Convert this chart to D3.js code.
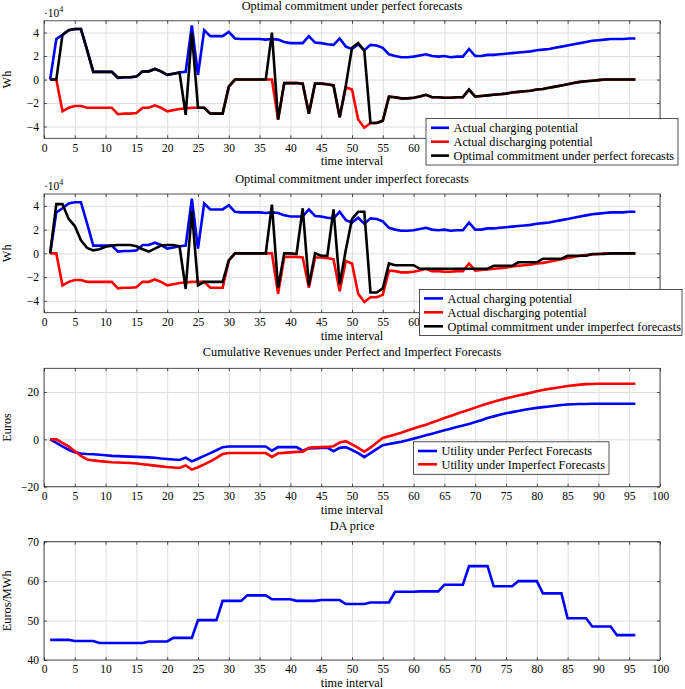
<!DOCTYPE html>
<html>
<head>
<meta charset="utf-8">
<script src="https://cdn.jsdelivr.net/npm/d3@7"></script>
<style>
  html, body { margin: 0; padding: 0; background: #fff; }
  svg { display: block; }
  text { font-family: "Liberation Serif", "Times New Roman", serif; fill: #000; }
</style>
</head>
<body>
<svg id="chart" width="685" height="689"></svg>
<script>
// ---------------- data ----------------
const intervals = d3.range(1, 97);

// Actual charging potential (x 10^4 Wh)
const chargingPotential = [
  0, 3.45, 3.8, 4.2, 4.3, 4.3, 2.5, 0.65, 0.65, 0.65,
  0.65, 0.15, 0.2, 0.2, 0.25, 0.7, 0.7, 0.9, 0.7, 0.4,
  0.5, 0.6, 0.65, 4.6, 0.4, 4.2, 3.7, 3.7, 3.7, 4.05,
  3.5, 3.45, 3.45, 3.45, 3.45, 3.4, 3.45, 3.4, 3.2, 3.1,
  3.1, 3.1, 3.7, 3.15, 3.1, 3.0, 2.95, 3.5, 2.8, 2.6,
  3.0, 2.5, 2.95, 2.9, 2.7, 2.15, 2.0, 1.9, 1.9, 1.95,
  2.05, 2.15, 2.0, 1.95, 2.0, 1.9, 1.95, 1.95, 2.6, 2.0,
  2.0, 2.1, 2.1, 2.15, 2.2, 2.25, 2.3, 2.35, 2.4, 2.5,
  2.55, 2.6, 2.7, 2.8, 2.9, 3.0, 3.1, 3.2, 3.3, 3.35,
  3.4, 3.45, 3.45, 3.45, 3.5, 3.5
];

// Actual discharging potential (x 10^4 Wh)
const dischargingPotential = [
  0, 0, -2.7, -2.4, -2.25, -2.25, -2.4, -2.4, -2.4, -2.4,
  -2.4, -2.95, -2.9, -2.9, -2.85, -2.4, -2.4, -2.2, -2.4, -2.7,
  -2.6, -2.5, -2.45, -2.4, -2.4, -2.4, -2.9, -2.9, -2.9, -0.6,
  0, 0, 0, 0, 0, 0, 0, -3.4, -0.3, -0.3,
  -0.3, -0.35, -2.9, -0.35, -0.35, -0.4, -0.5, -3.2, -0.65, -0.85,
  -3.4, -4.1, -3.7, -3.7, -3.5, -1.45, -1.5, -1.6, -1.6, -1.55,
  -1.45, -1.3, -1.5, -1.5, -1.55, -1.55, -1.5, -1.5, -0.85, -1.45,
  -1.4, -1.35, -1.3, -1.25, -1.2, -1.1, -1.05, -1.0, -0.95, -0.85,
  -0.8, -0.7, -0.6, -0.5, -0.4, -0.3, -0.2, -0.15, -0.1, -0.05,
  0, 0, 0, 0, 0, 0
];

// Optimal commitment under perfect forecasts (x 10^4 Wh)
const commitPerfect = [
  0, 0, 3.8, 4.2, 4.3, 4.3, 2.5, 0.65, 0.65, 0.65,
  0.65, 0.15, 0.2, 0.2, 0.25, 0.7, 0.7, 0.9, 0.7, 0.4,
  0.5, 0.6, -3.0, 4.0, -2.4, -2.4, -2.9, -2.9, -2.9, -0.6,
  0, 0, 0, 0, 0, 0, 4.0, -3.4, -0.3, -0.3,
  -0.3, -0.35, -2.9, -0.35, -0.35, -0.4, -0.5, -3.2, -0.5, 2.7,
  3.1, 2.45, -3.7, -3.7, -3.5, -1.45, -1.5, -1.6, -1.6, -1.55,
  -1.45, -1.3, -1.5, -1.5, -1.55, -1.55, -1.5, -1.5, -0.85, -1.45,
  -1.4, -1.35, -1.3, -1.25, -1.2, -1.1, -1.05, -1.0, -0.95, -0.85,
  -0.8, -0.7, -0.6, -0.5, -0.4, -0.3, -0.2, -0.15, -0.1, -0.05,
  0, 0, 0, 0, 0, 0
];

// Optimal commitment under imperfect forecasts (x 10^4 Wh)
const commitImperfect = [
  0, 4.15, 4.15, 2.9, 2.3, 1.1, 0.45, 0.25, 0.35, 0.55,
  0.65, 0.7, 0.7, 0.7, 0.6, 0.35, 0.15, 0.4, 0.65, 0.7,
  0.7, 0.6, -3.0, 3.6, -2.7, -2.4, -2.4, -2.4, -2.4, -0.6,
  0, 0, 0, 0, 0, 0, 4.1, -2.9, 0, 0,
  -0.05, 3.8, -2.7, 0, -0.2, -0.2, 3.7, -2.6, 0.3, 2.9,
  3.5, 3.5, -3.3, -3.3, -2.95, -0.85, -1.0, -1.0, -1.0, -1.0,
  -1.3, -1.3, -1.3, -1.3, -1.3, -1.3, -1.3, -1.3, -1.3, -1.3,
  -1.3, -1.3, -1.05, -1.05, -1.05, -1.05, -0.75, -0.75, -0.75, -0.75,
  -0.45, -0.45, -0.45, -0.45, -0.2, -0.2, -0.2, -0.2, -0.05, -0.05,
  -0.05, 0, 0, 0, 0, 0
];

// Cumulative revenues (Euros)
const utilityPerfect = [
  0, -1.5, -3.0, -4.4, -5.5, -6.0, -6.2, -6.3, -6.5, -6.7,
  -7.0, -7.1, -7.2, -7.3, -7.4, -7.5, -7.6, -7.8, -8.1, -8.3,
  -8.5, -8.7, -7.7, -9.3, -8.2, -7.0, -5.8, -4.6, -3.3, -3.0,
  -3.0, -3.0, -3.0, -3.0, -3.0, -3.0, -4.8, -3.3, -3.3, -3.3,
  -3.3, -4.8, -3.8, -3.7, -3.6, -3.5, -5.0, -3.6, -3.3, -4.5,
  -5.8, -7.5, -5.8, -4.1, -2.5, -2.0, -1.5, -1.0, -0.4, 0.3,
  1.0, 1.7, 2.4, 3.1, 3.8, 4.5, 5.2, 5.8, 6.5, 7.3,
  8.1, 9.0, 9.7, 10.4, 11.0, 11.5, 12.0, 12.5, 12.9, 13.3,
  13.6, 13.9, 14.2, 14.5, 14.7, 14.8, 14.9, 14.95, 15.0, 15.0,
  15.0, 15.0, 15.0, 15.0, 15.0, 15.0
];
const utilityImperfect = [
  0, 0, -1.5, -3.0, -5.0, -7.0, -8.5, -8.9, -9.2, -9.4,
  -9.7, -9.8, -9.9, -10.0, -10.2, -10.5, -10.8, -11.1, -11.4, -11.7,
  -11.9, -12.1, -11.0, -12.8, -11.8, -10.6, -9.3, -7.8, -6.2, -5.8,
  -5.8, -5.8, -5.8, -5.8, -5.8, -5.8, -7.4, -5.9, -5.7, -5.5,
  -5.3, -5.2, -3.6, -3.4, -3.3, -3.2, -2.9, -1.3, -0.8, -2.1,
  -3.6, -5.2, -3.5, -1.4, 0.6, 1.3, 2.0, 2.8, 3.7, 4.6,
  5.4, 6.2, 7.1, 8.0, 9.0, 9.9, 10.8, 11.7, 12.5, 13.4,
  14.3, 15.1, 15.9, 16.6, 17.3, 17.9, 18.5, 19.1, 19.7, 20.3,
  20.8, 21.3, 21.7, 22.1, 22.5, 22.8, 23.1, 23.3, 23.4, 23.5,
  23.5, 23.5, 23.5, 23.5, 23.5, 23.5
];

// DA price (Euros/MWh)
const daPrice = [
  45.1, 45.1, 45.1, 45.1, 44.8, 44.8, 44.8, 44.8, 44.3, 44.3,
  44.3, 44.3, 44.3, 44.3, 44.3, 44.3, 44.7, 44.7, 44.7, 44.7,
  45.6, 45.6, 45.6, 45.6, 50.1, 50.1, 50.1, 50.1, 55.0, 55.0,
  55.0, 55.0, 56.4, 56.4, 56.4, 56.4, 55.4, 55.4, 55.4, 55.4,
  55.0, 55.0, 55.0, 55.0, 55.2, 55.2, 55.2, 55.2, 54.2, 54.2,
  54.2, 54.2, 54.6, 54.6, 54.6, 54.6, 57.3, 57.3, 57.3, 57.3,
  57.4, 57.4, 57.4, 57.4, 59.1, 59.1, 59.1, 59.1, 63.8, 63.8,
  63.8, 63.8, 58.7, 58.7, 58.7, 58.7, 60.0, 60.0, 60.0, 60.0,
  56.9, 56.9, 56.9, 56.9, 50.6, 50.6, 50.6, 50.6, 48.5, 48.5,
  48.5, 48.5, 46.3, 46.3, 46.3, 46.3
];

const xTicks = d3.range(0, 101, 5);
const whTicks = [-4, -2, 0, 2, 4];
const euroTicks = [-20, 0, 20];
const priceTicks = [40, 50, 60, 70];

const titles = [
  "Optimal commitment under perfect forecasts",
  "Optimal commitment under imperfect forecasts",
  "Cumulative Revenues under Perfect and Imperfect Forecasts",
  "DA price"
];
const legend1 = ["Actual charging potential", "Actual discharging potential", "Optimal commitment under perfect forecasts"];
const legend2 = ["Actual charging potential", "Actual discharging potential", "Optimal commitment under imperfect forecasts"];
const legend3 = ["Utility under Perfect Forecasts", "Utility under Imperfect Forecasts"];

// ---------------- drawing ----------------
const svg = d3.select("#chart");
const L = 44, R = 660;
const x = d3.scaleLinear().domain([0, 100]).range([L, R]);
const fmt = v => (v < 0 ? "\u2212" + Math.abs(v) : String(v));
const TXT = 12.3, TICK = 11.5;

function panel(cfg) {
  const y = d3.scaleLinear().domain(cfg.domain).range([cfg.bottom, cfg.top]);
  const g = svg.append("g");
  const h = cfg.bottom - cfg.top;

  // grid
  g.append("g").attr("transform", `translate(0,${cfg.bottom})`)
    .call(d3.axisBottom(x).tickValues(xTicks).tickSize(-h).tickFormat(""))
    .call(a => a.select(".domain").remove())
    .call(a => a.selectAll("line").attr("stroke", "#dedede").attr("stroke-width", 1));
  g.append("g").attr("transform", `translate(${L},0)`)
    .call(d3.axisLeft(y).tickValues(cfg.yTicks).tickSize(-(R - L)).tickFormat(""))
    .call(a => a.select(".domain").remove())
    .call(a => a.selectAll("line").attr("stroke", "#dedede").attr("stroke-width", 1));

  // lines
  cfg.series.forEach(s => {
    const line = d3.line().x((d, i) => x(intervals[i])).y(d => y(d));
    g.append("path").datum(s.values)
      .attr("fill", "none").attr("stroke", s.color)
      .attr("stroke-width", 2.6).attr("stroke-linejoin", "miter")
      .attr("d", line);
  });

  // axes (ticks inward) on all sides
  const tk = 3;
  const xLabelFmt = v => (cfg.hideXLabelsFrom !== undefined && v >= cfg.hideXLabelsFrom) ? "" : fmt(v);
  const bottomAx = g.append("g").attr("transform", `translate(0,${cfg.bottom})`)
    .call(d3.axisBottom(x).tickValues(xTicks).tickSizeInner(-tk).tickSizeOuter(0).tickPadding(5).tickFormat(xLabelFmt));
  const topAx = g.append("g").attr("transform", `translate(0,${cfg.top})`)
    .call(d3.axisTop(x).tickValues(xTicks).tickSizeInner(-tk).tickSizeOuter(0).tickFormat(""));
  const leftAx = g.append("g").attr("transform", `translate(${L},0)`)
    .call(d3.axisLeft(y).tickValues(cfg.yTicks).tickSizeInner(-tk).tickSizeOuter(0).tickPadding(5).tickFormat(fmt));
  const rightAx = g.append("g").attr("transform", `translate(${R},0)`)
    .call(d3.axisRight(y).tickValues(cfg.yTicks).tickSizeInner(-tk).tickSizeOuter(0).tickFormat(""));
  [bottomAx, topAx, leftAx, rightAx].forEach(a => {
    a.select(".domain").remove();
    a.selectAll("line").attr("stroke", "#262626").attr("stroke-width", 0.8);
    a.selectAll("text").attr("font-family", "Liberation Serif").attr("font-size", TICK).attr("fill", "#000");
    a.selectAll("text").filter(function () { return this.textContent === ""; }).remove();
  });
  bottomAx.selectAll("text").attr("dy", "0.72em");

  g.append("rect").attr("x", L).attr("y", cfg.top).attr("width", R - L).attr("height", h)
    .attr("fill", "none").attr("stroke", "#262626").attr("stroke-width", 0.8);

  // title
  g.append("text").attr("x", (L + R) / 2).attr("y", cfg.top - cfg.titleOff)
    .attr("text-anchor", "middle").attr("font-size", TXT).text(cfg.title);
  // x label
  g.append("text").attr("x", (L + R) / 2).attr("y", cfg.bottom + 27)
    .attr("text-anchor", "middle").attr("font-size", TXT).text("time interval");
  // y label
  g.append("text").attr("transform", `translate(11,${(cfg.top + cfg.bottom) / 2}) rotate(-90)`)
    .attr("text-anchor", "middle").attr("font-size", TXT).text(cfg.ylabel);

  if (cfg.exponent) {
    const t = g.append("text").attr("x", L).attr("y", cfg.top - 4).attr("font-size", TICK);
    t.append("tspan").text("\u00b710");
    t.append("tspan").attr("font-size", 8).attr("dy", -5).text("4");
  }

  // legend
  if (cfg.legend) {
    const lg = cfg.legend;
    const lgG = g.append("g");
    lgG.append("rect").attr("x", lg.x0).attr("y", lg.y0).attr("width", lg.x1 - lg.x0).attr("height", lg.y1 - lg.y0)
      .attr("fill", "#fff").attr("stroke", "#262626").attr("stroke-width", 0.8);
    lg.labels.forEach((lab, i) => {
      const cy = lg.rows[i];
      lgG.append("line").attr("x1", lg.lx0).attr("x2", lg.lx1).attr("y1", cy).attr("y2", cy)
        .attr("stroke", lg.colors[i]).attr("stroke-width", 2.6);
      lgG.append("text").attr("x", lg.tx).attr("y", cy).attr("dy", "0.35em")
        .attr("font-size", TXT).text(lab);
    });
  }
}

panel({
  top: 20.8, bottom: 138.3, domain: [-5, 5], yTicks: whTicks, title: titles[0], titleOff: 11,
  ylabel: "Wh", exponent: true, hideXLabelsFrom: 65,
  series: [
    { values: chargingPotential, color: "#0000ff" },
    { values: dischargingPotential, color: "#ff0000" },
    { values: commitPerfect, color: "#000000" }
  ],
  legend: { x0: 426, x1: 678, y0: 118.5, y1: 165, rows: [127.8, 141.7, 155.6],
    lx0: 431, lx1: 449, tx: 453.5, labels: legend1, colors: ["#0000ff", "#ff0000", "#000000"] }
});

panel({
  top: 194, bottom: 312.7, domain: [-5, 5], yTicks: whTicks, title: titles[1], titleOff: 11,
  ylabel: "Wh", exponent: true, hideXLabelsFrom: 65,
  series: [
    { values: chargingPotential, color: "#0000ff" },
    { values: dischargingPotential, color: "#ff0000" },
    { values: commitImperfect, color: "#000000" }
  ],
  legend: { x0: 419.5, x1: 682, y0: 289.5, y1: 335.5, rows: [298.4, 312.3, 326.3],
    lx0: 424, lx1: 443, tx: 447.5, labels: legend2, colors: ["#0000ff", "#ff0000", "#000000"] }
});

panel({
  top: 368.3, bottom: 486.7, domain: [-20, 30], yTicks: euroTicks, title: titles[2], titleOff: 12.5,
  ylabel: "Euros",
  series: [
    { values: utilityPerfect, color: "#0000ff" },
    { values: utilityImperfect, color: "#ff0000" }
  ],
  legend: { x0: 413.5, x1: 609, y0: 441.8, y1: 474.3, rows: [451, 464.3],
    lx0: 418, lx1: 437, tx: 441.5, labels: legend3, colors: ["#0000ff", "#ff0000"] }
});

panel({
  top: 541.7, bottom: 660, domain: [40, 70], yTicks: priceTicks, title: titles[3], titleOff: 12,
  ylabel: "Euros/MWh",
  series: [ { values: daPrice, color: "#0000ff" } ]
});
</script>
</body>
</html>
